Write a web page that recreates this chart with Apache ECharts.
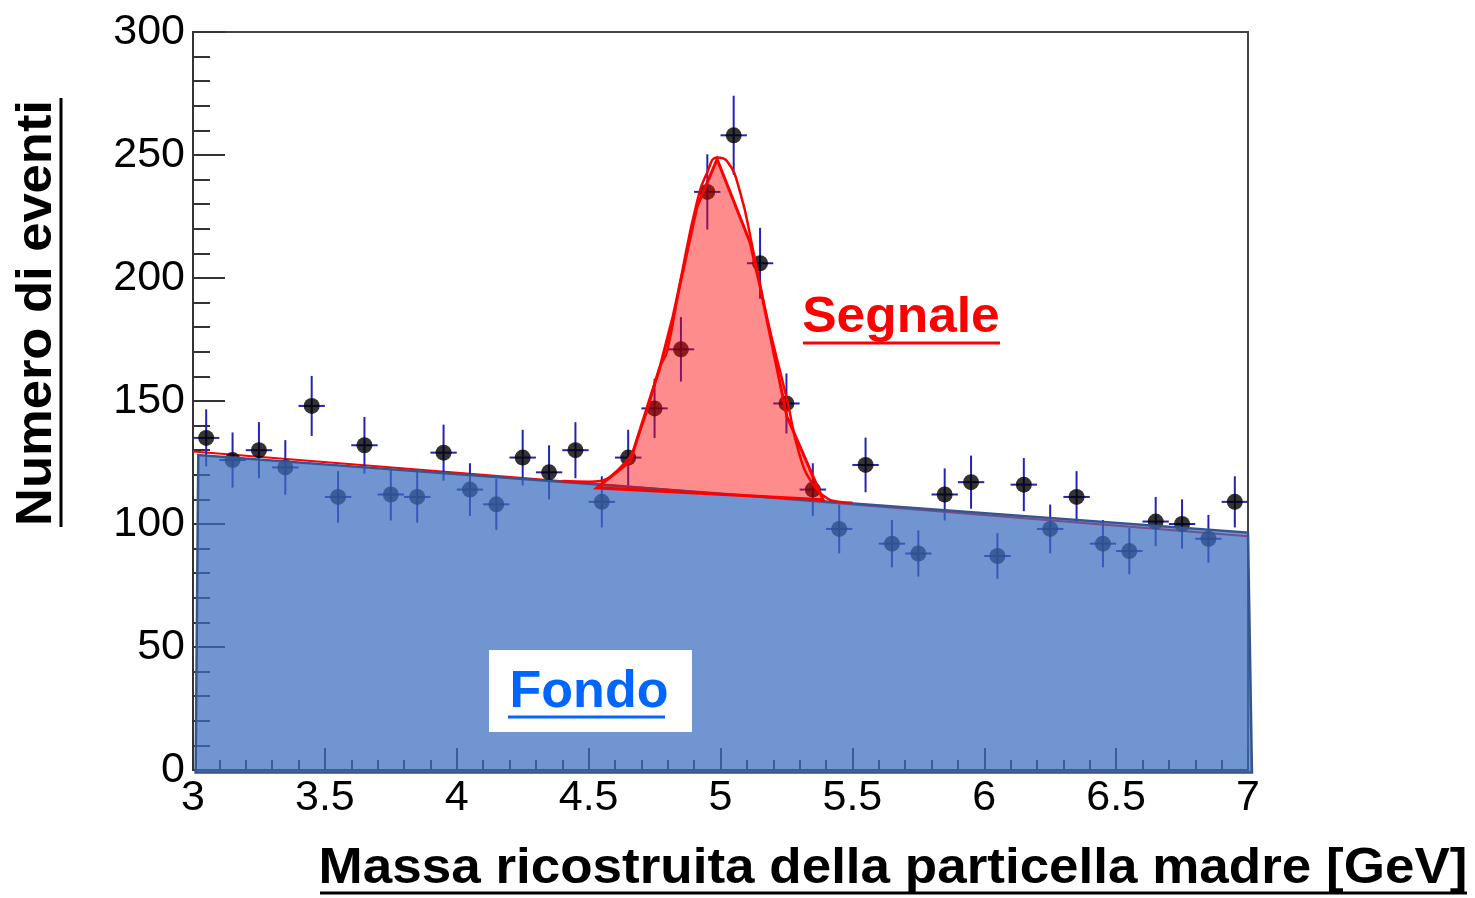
<!DOCTYPE html>
<html>
<head>
<meta charset="utf-8">
<script src="https://cdn.jsdelivr.net/npm/echarts@6/dist/echarts.min.js"></script>
<style>
html, body { margin: 0; padding: 0; background: #fff; }
#main { width: 1475px; height: 898px; }
</style>
</head>
<body>
<div id="main"></div>
<script>
// centri dei bin (larghezza 0.1 GeV)
var binCenters = [3.05, 3.15, 3.25, 3.35, 3.45, 3.55, 3.65, 3.75, 3.85, 3.95,
                  4.05, 4.15, 4.25, 4.35, 4.45, 4.55, 4.65, 4.75, 4.85, 4.95,
                  5.05, 5.15, 5.25, 5.35, 5.45, 5.55, 5.65, 5.75, 5.85, 5.95,
                  6.05, 6.15, 6.25, 6.35, 6.45, 6.55, 6.65, 6.75, 6.85, 6.95];
var eventCounts = [135, 126, 130, 123, 148, 111, 132, 112, 111, 129,
                   114, 108, 127, 121, 130, 109, 127, 147, 171, 235,
                   258, 206, 149, 114, 98, 124, 92, 88, 112, 117,
                   87, 116, 98, 111, 92, 89, 101, 100, 94, 109];
var countErrors = [11.6, 11.2, 11.4, 11.1, 12.2, 10.5, 11.5, 10.6, 10.5, 11.4,
                   10.7, 10.4, 11.3, 11.0, 11.4, 10.4, 11.3, 12.1, 13.1, 15.3,
                   16.1, 14.4, 12.2, 10.7, 9.9, 11.1, 9.6, 9.4, 10.6, 10.8,
                   9.3, 10.8, 9.9, 10.5, 9.6, 9.4, 10.0, 10.0, 9.7, 10.4];
var binHalfWidth = 0.05;

// fondo (poligono blu)
var bgX = [3.01, 3.02, 7.0, 7.015];
var bgY = [-1, 128, 96.5, -1];
// linea rossa del fondo
var bgFitX = [3.0, 7.0];
var bgFitY = [129.5, 95];

// segnale (poligono rosso)
var sigX = [4.531, 4.657, 4.771, 4.820, 4.911, 4.987, 5.112, 5.150, 5.252, 5.389];
var sigY = [114.7, 125.4, 164, 184.4, 229, 248.3, 214.5, 196.6, 143.7, 109.9];
// curva del fit (segnale + fondo)
var fitX = [4.40, 4.505, 4.63, 4.695, 4.771, 4.797, 4.85, 4.911, 4.95, 4.987, 5.025, 5.074, 5.123, 5.176, 5.252, 5.30, 5.351, 5.404, 5.44, 5.50];
var fitY = [117.5, 117.2, 124, 138, 164, 170, 200, 231, 243, 249, 247.5, 235, 211.6, 184, 150.6, 128, 116, 110.5, 109.2, 108.6];

var xTicks = ['3', '3.5', '4', '4.5', '5', '5.5', '6', '6.5', '7'];
var yTicks = ['0', '50', '100', '150', '200', '250', '300'];

var chart = echarts.init(document.getElementById('main'));

function zip(xs, ys) {
    return xs.map(function (x, i) { return [x, ys[i]]; });
}

var errData = binCenters.map(function (x, i) { return [x, eventCounts[i], countErrors[i]]; });

var option = {
    animation: false,
    grid: {
        left: 193, top: 32, width: 1055, height: 738,
        show: true, borderColor: '#444', borderWidth: 2, backgroundColor: 'transparent'
    },
    xAxis: {
        type: 'value', min: 3, max: 7, interval: 0.5,
        axisLine: { show: true, onZero: false, lineStyle: { color: '#333', width: 2 } },
        axisTick: { inside: true, length: 22, lineStyle: { color: '#333', width: 2 } },
        minorTick: { show: true, splitNumber: 5, length: 10, lineStyle: { color: '#333', width: 2 } },
        splitLine: { show: false },
        axisLabel: {
            fontSize: 43, color: '#000', fontFamily: 'Liberation Sans', margin: 7,
            formatter: function (v) { return xTicks[Math.round((v - 3) / 0.5)]; }
        }
    },
    yAxis: {
        type: 'value', min: 0, max: 300, interval: 50,
        axisLine: { show: true, lineStyle: { color: '#333', width: 2 } },
        axisTick: { inside: true, length: 32, lineStyle: { color: '#333', width: 2 } },
        minorTick: { show: true, splitNumber: 5, length: 17, lineStyle: { color: '#333', width: 2 } },
        splitLine: { show: false },
        axisLabel: {
            fontSize: 43, color: '#000', fontFamily: 'Liberation Sans', margin: 8,
            formatter: function (v) { return yTicks[Math.round(v / 50)]; }
        }
    },
    series: [
        {
            type: 'line', z: 1, data: zip(bgFitX, bgFitY), showSymbol: false,
            lineStyle: { color: '#ff0000', width: 2 }
        },
        {
            type: 'custom', z: 2, data: errData,
            renderItem: function (params, api) {
                var x = api.value(0), y = api.value(1), e = api.value(2);
                var a = api.coord([x, y - e]), b = api.coord([x, y + e]);
                var c = api.coord([x - binHalfWidth, y]), d = api.coord([x + binHalfWidth, y]);
                var st = { stroke: '#2323b4', lineWidth: 2 };
                return {
                    type: 'group', children: [
                        { type: 'line', shape: { x1: a[0], y1: a[1], x2: b[0], y2: b[1] }, style: st },
                        { type: 'line', shape: { x1: c[0], y1: c[1], x2: d[0], y2: d[1] }, style: st }
                    ]
                };
            }
        },
        {
            type: 'scatter', z: 3, data: zip(binCenters, eventCounts),
            symbol: 'circle', symbolSize: 16, itemStyle: { color: '#000' }
        },
        {
            type: 'custom', z: 4, data: [0], clip: false,
            renderItem: function (params, api) {
                var pts = bgX.map(function (x, i) { return api.coord([x, bgY[i]]); });
                return {
                    type: 'polygon', shape: { points: pts },
                    style: { fill: 'rgba(60,110,190,0.73)', stroke: '#34558f', lineWidth: 2.5 }
                };
            }
        },
        {
            type: 'custom', z: 5, data: [0], clip: false,
            renderItem: function (params, api) {
                var pts = sigX.map(function (x, i) { return api.coord([x, sigY[i]]); });
                return {
                    type: 'polygon', shape: { points: pts },
                    style: { fill: 'rgba(255,0,0,0.45)', stroke: '#ff0000', lineWidth: 3 }
                };
            }
        },
        {
            type: 'line', z: 6, data: zip(fitX, fitY), smooth: true, showSymbol: false,
            lineStyle: { color: '#ff0000', width: 2.5 }
        }
    ],
    graphic: [
        {
            type: 'text', x: 37, y: 313, rotation: Math.PI / 2, scaleX: 1.05,
            style: { text: 'Numero di eventi', fontSize: 50, fontWeight: 'bold', fontFamily: 'Liberation Sans',
                     fill: '#000', align: 'center', verticalAlign: 'middle' }
        },
        { type: 'line', shape: { x1: 61, y1: 98, x2: 61, y2: 527 }, style: { stroke: '#000', lineWidth: 3 } },
        {
            type: 'text', x: 893, y: 869, scaleX: 1.06,
            style: { text: 'Massa ricostruita della particella madre [GeV]', fontSize: 50, fontWeight: 'bold',
                     fontFamily: 'Liberation Sans', fill: '#000', align: 'center', verticalAlign: 'middle' }
        },
        { type: 'line', shape: { x1: 320, y1: 893, x2: 1467, y2: 893 }, style: { stroke: '#000', lineWidth: 3 } },
        {
            type: 'text', x: 901, y: 318, scaleX: 1.03, z: 10,
            style: { text: 'Segnale', fontSize: 50, fontWeight: 'bold', fontFamily: 'Liberation Sans',
                     fill: '#ff0000', align: 'center', verticalAlign: 'middle' }
        },
        { type: 'line', shape: { x1: 803, y1: 343, x2: 1000, y2: 343 }, style: { stroke: '#ff0000', lineWidth: 3 } },
        { type: 'rect', shape: { x: 489, y: 650, width: 203, height: 82 }, style: { fill: '#fff' }, z: 10 },
        {
            type: 'text', x: 589, y: 693, z: 11,
            style: { text: 'Fondo', fontSize: 52, fontWeight: 'bold', fontFamily: 'Liberation Sans',
                     fill: '#0066ff', align: 'center', verticalAlign: 'middle' }
        },
        { type: 'line', shape: { x1: 508, y1: 717, x2: 665, y2: 717 }, style: { stroke: '#0066ff', lineWidth: 3 }, z: 11 }
    ]
};

chart.setOption(option);
</script>
</body>
</html>
